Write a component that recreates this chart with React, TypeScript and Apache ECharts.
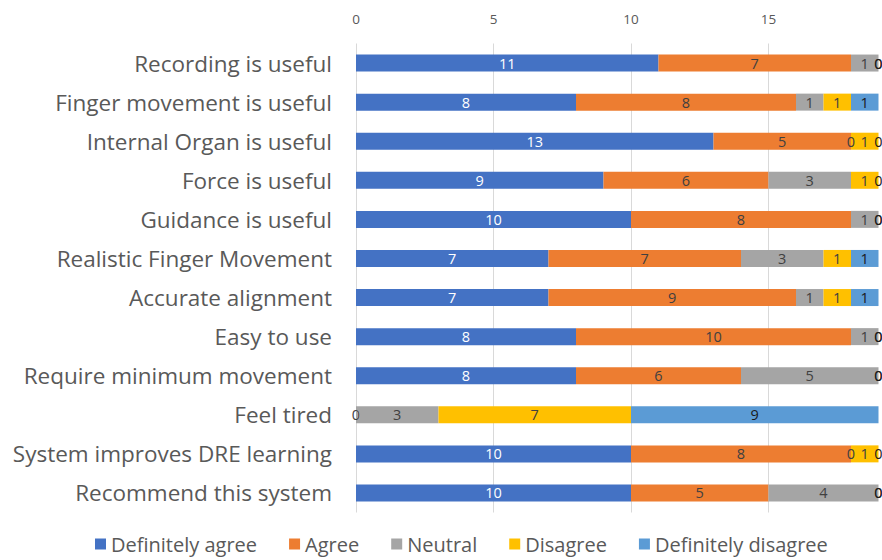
import React, { useEffect, useRef } from "react";
import * as echarts from "echarts";

const categories = [
  "Recording is useful",
  "Finger movement is useful",
  "Internal Organ is useful",
  "Force is useful",
  "Guidance is useful",
  "Realistic Finger Movement",
  "Accurate alignment",
  "Easy to use",
  "Require minimum movement",
  "Feel tired",
  "System improves DRE learning",
  "Recommend this system",
];

const definitelyAgree = [11, 8, 13, 9, 10, 7, 7, 8, 8, 0, 10, 10];
const agree = [7, 8, 5, 6, 8, 7, 9, 10, 6, 0, 8, 5];
const neutral = [1, 1, 0, 3, 1, 3, 1, 1, 5, 3, 0, 4];
const disagree = [0, 1, 1, 1, 0, 1, 1, 0, 0, 7, 1, 0];
const definitelyDisagree = [0, 1, 0, 0, 0, 1, 1, 0, 0, 9, 0, 0];

const seriesNames = ["Definitely agree", "Agree", "Neutral", "Disagree", "Definitely disagree"];
const seriesData = [definitelyAgree, agree, neutral, disagree, definitelyDisagree];
const colors = ["#4472C4", "#ED7D31", "#A5A5A5", "#FFC000", "#5B9BD5"];
const labelColors = ["#FFFFFF", "#404040", "#404040", "#404040", "#1a1a1a"];

const FONT = "Open Sans";

export default function App() {
  const ref = useRef<HTMLDivElement>(null);
  useEffect(() => {
    if (!ref.current) return;
    const chart = echarts.init(ref.current, null, { renderer: "svg" });
    chart.setOption({
      animation: false,
      backgroundColor: "#ffffff",
      color: colors,
      textStyle: { fontFamily: FONT },
      grid: {
        left: 356,
        width: 550,
        top: 43.5,
        bottom: 47.5,
        containLabel: false,
        outerBoundsMode: "none",
      },
      legend: {
        bottom: 1,
        left: 90,
        itemWidth: 11,
        itemHeight: 11,
        itemGap: 32,
        icon: "rect",
        textStyle: { fontSize: 20, color: "#595959", fontFamily: FONT },
        data: seriesNames,
      },
      xAxis: {
        type: "value",
        position: "top",
        min: 0,
        max: 20,
        interval: 5,
        axisLine: { show: false },
        axisTick: { show: false },
        splitLine: { show: true, lineStyle: { color: "#D9D9D9", width: 1 } },
        axisLabel: {
          color: "#595959",
          fontSize: 13.5,
          margin: 18,
          fontFamily: FONT,
          showMaxLabel: false,
        },
      },
      yAxis: {
        type: "category",
        inverse: true,
        data: categories,
        axisLine: { show: false },
        axisTick: { show: false },
        axisLabel: { color: "#595959", fontSize: 22.5, margin: 24, fontFamily: FONT },
      },
      series: seriesData.map((d, i) => ({
        name: seriesNames[i],
        type: "bar",
        stack: "total",
        barWidth: 17,
        data: d,
        itemStyle: { color: colors[i] },
        label: {
          show: true,
          position: "inside",
          color: labelColors[i],
          fontSize: 14.5,
          fontFamily: FONT,
        },
      })),
    });
    return () => chart.dispose();
  }, []);
  return <div ref={ref} style={{ width: 882, height: 560, position: "absolute", left: 0, top: 0 }} />;
}
